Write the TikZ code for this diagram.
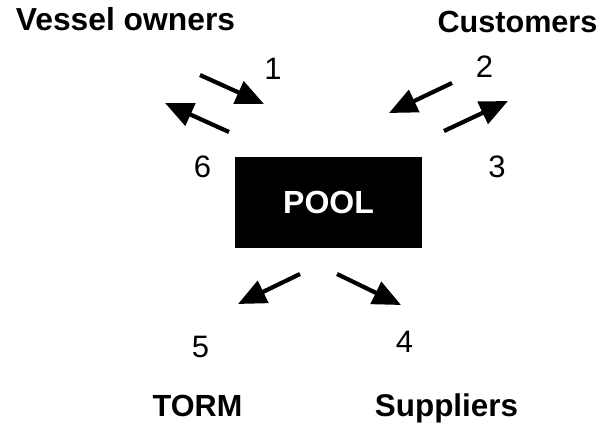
\documentclass[tikz,border=0pt]{standalone}
\usepackage{fontspec}
\setmainfont{Liberation Sans}
\usetikzlibrary{arrows.meta}
\tikzset{
  party/.style={anchor=base, inner sep=0pt, font=\fontsize{#1}{#1}\selectfont\bfseries},
  party/.default=32,
  num/.style={anchor=base, inner sep=0pt, font=\fontsize{31}{31}\selectfont},
  flow/.style={line width=4.2pt, -{Triangle[length=28pt,width=24pt]}},
  poolbox/.style={fill=black, draw=none, text=white, minimum width=187pt, minimum height=91pt, inner sep=0pt, font=\fontsize{32}{32}\selectfont\bfseries}
}
\begin{document}
\begin{tikzpicture}[x=1pt,y=-1pt]
\useasboundingbox (0,0) rectangle (604,423);
\node[party=31.8] (vo) at (125.5,30) {Vessel owners};
\node[party=30.6] (cu) at (517.5,32) {Customers};
\node[party=30.6] (to) at (197.5,416) {TORM};
\node[party=31.4] (su) at (446.5,416) {Suppliers};
\node[poolbox] (pool) at (328.5,202.5) {POOL};
\node[num] (n1) at (273,79) {1};
\node[num] (n2) at (484.5,77) {2};
\node[num] (n3) at (497,177.5) {3};
\node[num] (n4) at (404.5,352) {4};
\node[num] (n5) at (200.5,357.5) {5};
\node[num] (n6) at (202.5,177.5) {6};
\coordinate (a1s) at (200,75);  \coordinate (a1e) at (264,104);
\coordinate (a6s) at (229,132); \coordinate (a6e) at (165,103);
\coordinate (a2s) at (452,83);  \coordinate (a2e) at (389,113);
\coordinate (a3s) at (444,131); \coordinate (a3e) at (508,101);
\coordinate (a5s) at (300,274); \coordinate (a5e) at (238,304);
\coordinate (a4s) at (337,274); \coordinate (a4e) at (401,305);
\draw[flow] (a1s) -- (a1e);
\draw[flow] (a6s) -- (a6e);
\draw[flow] (a2s) -- (a2e);
\draw[flow] (a3s) -- (a3e);
\draw[flow] (a5s) -- (a5e);
\draw[flow] (a4s) -- (a4e);
\end{tikzpicture}
\end{document}
